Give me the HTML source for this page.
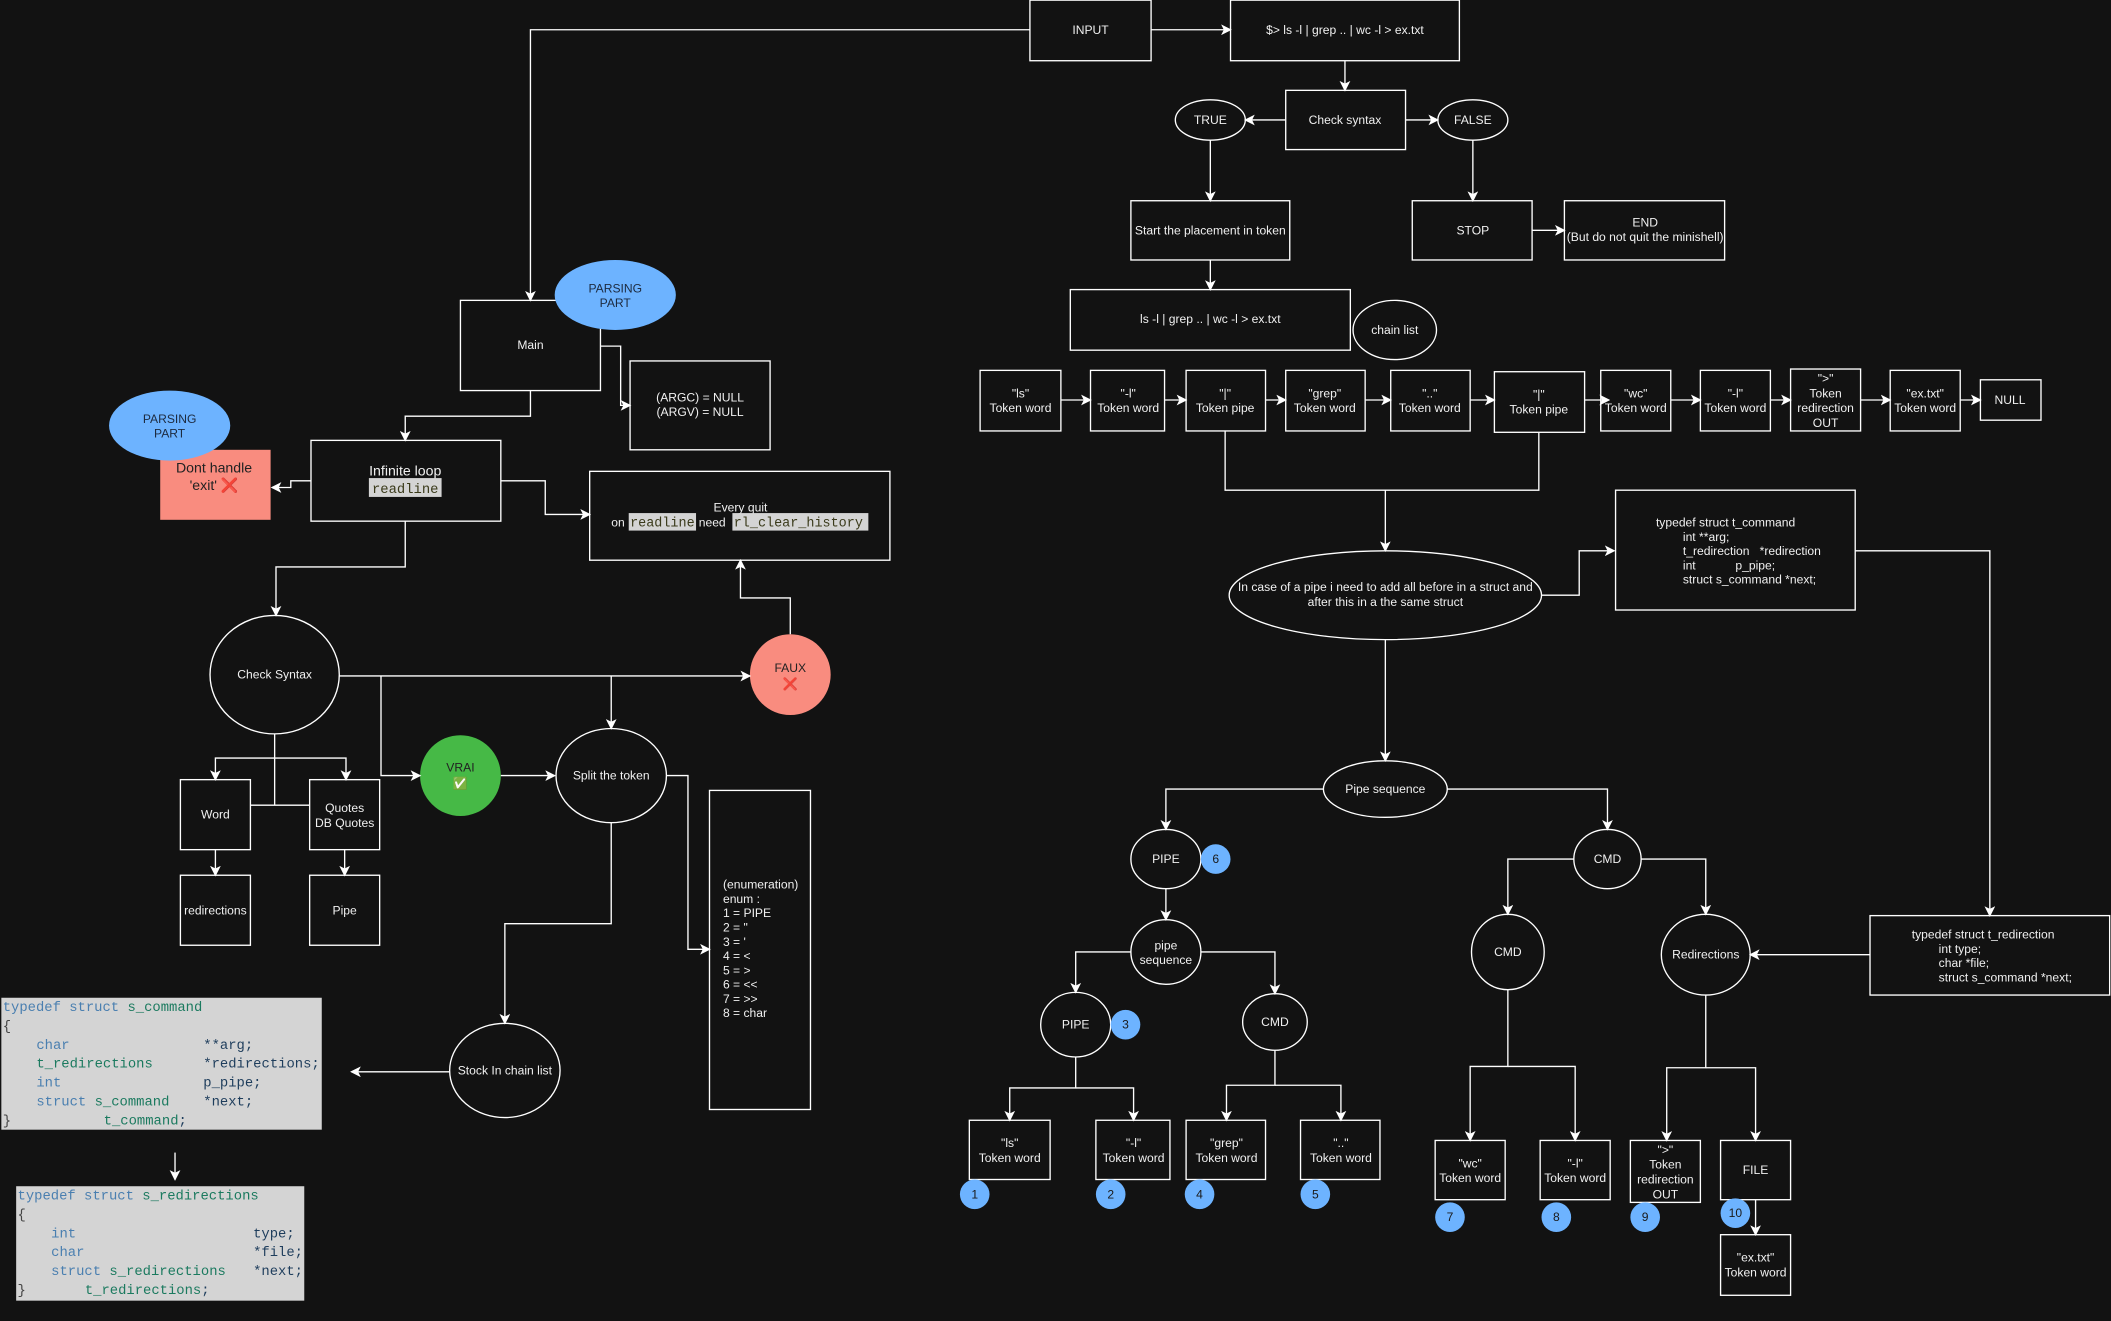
<!DOCTYPE html>
<html><head><meta charset="utf-8"><style>
html,body{margin:0;padding:0;background:#121212;}
svg{display:block}
text{font-family:"Liberation Sans",sans-serif;font-size:9px;fill:#f0f0f0;}
.m{font-family:"Liberation Mono","DejaVu Sans Mono",monospace;font-size:10.3px;}
.kw{fill:#4a7fb0}.ty{fill:#1b7a5f}.id{fill:#1e3d5c}.pu{fill:#444}
</style></head><body>
<svg width="2111" height="1321" viewBox="0 0 1568 981" xmlns="http://www.w3.org/2000/svg">
<defs><marker id="a" markerWidth="8" markerHeight="8" refX="7" refY="4" orient="auto" markerUnits="userSpaceOnUse"><path d="M0,0 L8,4 L0,8 L2,4 z" fill="#fff"/></marker></defs>
<rect width="1568" height="981" fill="#121212"/>
<g fill="none" stroke="#fff" stroke-width="1">
<rect x="765" y="0" width="90" height="45"/>
<rect x="914" y="0" width="170" height="45"/>
<rect x="955" y="67" width="89" height="44"/>
<ellipse cx="899" cy="89" rx="26" ry="15"/>
<ellipse cx="1094" cy="89" rx="26" ry="15"/>
<rect x="840" y="149" width="118" height="44"/>
<rect x="1049" y="149" width="89" height="44"/>
<rect x="1162" y="149" width="119" height="44"/>
<rect x="795" y="215" width="208" height="45"/>
<ellipse cx="1036" cy="245" rx="31" ry="22"/>
<rect x="728" y="275" width="60" height="45"/>
<rect x="810" y="275" width="55" height="45"/>
<rect x="881" y="275" width="59" height="45"/>
<rect x="955" y="275" width="59" height="45"/>
<rect x="1033" y="275" width="59" height="45"/>
<rect x="1110" y="276" width="67" height="45"/>
<rect x="1189" y="275" width="52" height="45"/>
<rect x="1263" y="275" width="52" height="45"/>
<rect x="1330" y="274" width="52" height="46"/>
<rect x="1404" y="275" width="52" height="45"/>
<rect x="1471" y="282" width="45" height="30"/>
<ellipse cx="1029" cy="442" rx="116" ry="33"/>
<rect x="1200" y="364" width="178" height="89"/>
<rect x="1389" y="680" width="178" height="59"/>
<ellipse cx="1029" cy="586" rx="46" ry="21"/>
<ellipse cx="866" cy="638" rx="26" ry="22"/>
<ellipse cx="1194" cy="638" rx="25" ry="22"/>
<ellipse cx="866" cy="707" rx="26" ry="24"/>
<ellipse cx="799" cy="761" rx="26" ry="24"/>
<ellipse cx="947" cy="759" rx="24" ry="21"/>
<ellipse cx="1120" cy="707" rx="27" ry="28"/>
<ellipse cx="1267" cy="709" rx="33" ry="30"/>
<rect x="720" y="832" width="60" height="44"/>
<rect x="814" y="832" width="55" height="44"/>
<rect x="881" y="832" width="59" height="44"/>
<rect x="966" y="832" width="59" height="44"/>
<rect x="1066" y="847" width="52" height="44"/>
<rect x="1144" y="847" width="52" height="44"/>
<rect x="1211" y="847" width="52" height="46"/>
<rect x="1278" y="847" width="52" height="44"/>
<rect x="1278" y="917" width="52" height="45"/>
<rect x="342" y="223" width="104" height="67"/>
<rect x="468" y="268" width="104" height="66"/>
<rect x="231" y="327" width="141" height="60"/>
<rect x="438" y="350" width="223" height="66"/>
<ellipse cx="204" cy="501" rx="48" ry="44"/>
<ellipse cx="454" cy="576" rx="41" ry="35"/>
<rect x="527" y="587" width="75" height="237"/>
<ellipse cx="375" cy="795" rx="41" ry="35"/>
<rect x="134" y="579" width="52" height="52"/>
<rect x="230" y="579" width="52" height="52"/>
<rect x="134" y="650" width="52" height="52"/>
<rect x="230" y="650" width="52" height="52"/>
</g>
<rect x="119" y="334" width="82" height="52" fill="#f98c7f"/>
<ellipse cx="126" cy="316" rx="45" ry="26" fill="#6db3ff"/>
<ellipse cx="457" cy="219" rx="45" ry="26" fill="#6db3ff"/>
<circle cx="587" cy="501" r="30" fill="#f98c7f"/>
<circle cx="342" cy="576" r="30" fill="#46b946"/>
<g fill="#6db3ff">
<circle cx="903" cy="638" r="11"/><circle cx="836" cy="761" r="11"/>
<circle cx="724" cy="887" r="11"/><circle cx="825" cy="887" r="11"/><circle cx="891" cy="887" r="11"/><circle cx="977" cy="887" r="11"/>
<circle cx="1077" cy="904" r="11"/><circle cx="1156" cy="904" r="11"/><circle cx="1222" cy="904" r="11"/><circle cx="1289" cy="901" r="11"/>
</g>
<rect x="1" y="741" width="238" height="98" fill="#d4d4d4"/>
<rect x="12" y="881" width="214" height="85" fill="#d4d4d4"/>
<g fill="none" stroke="#fff" stroke-width="1">
<path d="M855,22H914" marker-end="url(#a)"/>
<path d="M765,22H394V223" marker-end="url(#a)"/>
<path d="M999,45V67" marker-end="url(#a)"/>
<path d="M955,89H925" marker-end="url(#a)"/>
<path d="M1044,89H1068" marker-end="url(#a)"/>
<path d="M899,104V149" marker-end="url(#a)"/>
<path d="M1094,104V149" marker-end="url(#a)"/>
<path d="M1138,171H1162" marker-end="url(#a)"/>
<path d="M899,193V215" marker-end="url(#a)"/>
<path d="M788,297H810" marker-end="url(#a)"/>
<path d="M865,297H881" marker-end="url(#a)"/>
<path d="M940,297H955" marker-end="url(#a)"/>
<path d="M1014,297H1033" marker-end="url(#a)"/>
<path d="M1092,297H1110" marker-end="url(#a)"/>
<path d="M1177,297H1195" marker-end="url(#a)"/>
<path d="M1241,297H1263" marker-end="url(#a)"/>
<path d="M1315,297H1330" marker-end="url(#a)"/>
<path d="M1382,297H1404" marker-end="url(#a)"/>
<path d="M1456,297H1471" marker-end="url(#a)"/>
<path d="M910,320V364H1143V321"/>
<path d="M1029,364V409" marker-end="url(#a)"/>
<path d="M1145,442H1173V409H1199" marker-end="url(#a)"/>
<path d="M1378,409H1478V680" marker-end="url(#a)"/>
<path d="M1389,709H1300" marker-end="url(#a)"/>
<path d="M1029,475V565" marker-end="url(#a)"/>
<path d="M983,586H866V616" marker-end="url(#a)"/>
<path d="M1075,586H1194V616" marker-end="url(#a)"/>
<path d="M866,660V683" marker-end="url(#a)"/>
<path d="M840,707H799V737" marker-end="url(#a)"/>
<path d="M892,707H947V738" marker-end="url(#a)"/>
<path d="M799,785V808H750V832" marker-end="url(#a)"/>
<path d="M799,808H842V832" marker-end="url(#a)"/>
<path d="M947,780V806H911V832" marker-end="url(#a)"/>
<path d="M947,806H996V832" marker-end="url(#a)"/>
<path d="M1169,638H1120V679" marker-end="url(#a)"/>
<path d="M1219,638H1267V679" marker-end="url(#a)"/>
<path d="M1120,735V792H1092V847" marker-end="url(#a)"/>
<path d="M1120,792H1170V847" marker-end="url(#a)"/>
<path d="M1267,739V793H1238V847" marker-end="url(#a)"/>
<path d="M1267,793H1304V847" marker-end="url(#a)"/>
<path d="M1304,891V917" marker-end="url(#a)"/>
<path d="M446,257H461V301H468" marker-end="url(#a)"/>
<path d="M394,290V309H301V327" marker-end="url(#a)"/>
<path d="M231,357H216V362H202" marker-end="url(#a)"/>
<path d="M372,357H405V382H438" marker-end="url(#a)"/>
<path d="M587,471V444H550V416" marker-end="url(#a)"/>
<path d="M301,387V421H205V457" marker-end="url(#a)"/>
<path d="M252,502H557" marker-end="url(#a)"/>
<path d="M283,502V576H312" marker-end="url(#a)"/>
<path d="M454,502V541" marker-end="url(#a)"/>
<path d="M372,576H412" marker-end="url(#a)"/>
<path d="M495,576H511V705H527" marker-end="url(#a)"/>
<path d="M454,611V686H375V760" marker-end="url(#a)"/>
<path d="M334,796H261" marker-end="url(#a)"/>
<path d="M204,545V598"/>
<path d="M186,598H230"/>
<path d="M204,563H160V579" marker-end="url(#a)"/>
<path d="M204,563H257V579" marker-end="url(#a)"/>
<path d="M160,631V650" marker-end="url(#a)"/>
<path d="M256,631V650" marker-end="url(#a)"/>
<path d="M130,856V876" marker-end="url(#a)"/>
</g>
<g text-anchor="middle">
<text x="810" y="25">INPUT</text>
<text x="999" y="25">$&gt; ls -l | grep .. | wc -l &gt; ex.txt</text>
<text x="999" y="92">Check syntax</text>
<text x="899" y="92">TRUE</text>
<text x="1094" y="92">FALSE</text>
<text x="899" y="174">Start the placement in token</text>
<text x="1094" y="174">STOP</text>
<text x="1222" y="168">END</text>
<text x="1222" y="179">(But do not quit the minishell)</text>
<text x="899" y="240">ls -l | grep .. | wc -l &gt; ex.txt</text>
<text x="1036" y="248">chain list</text>
<text x="758" y="295">"ls"</text><text x="758" y="306">Token word</text>
<text x="838" y="295">"-l"</text><text x="838" y="306">Token word</text>
<text x="910" y="295">"|"</text><text x="910" y="306">Token pipe</text>
<text x="984" y="295">"grep"</text><text x="984" y="306">Token word</text>
<text x="1062" y="295">".."</text><text x="1062" y="306">Token word</text>
<text x="1143" y="296">"|"</text><text x="1143" y="307">Token pipe</text>
<text x="1215" y="295">"wc"</text><text x="1215" y="306">Token word</text>
<text x="1289" y="295">"-l"</text><text x="1289" y="306">Token word</text>
<text x="1356" y="284">"&gt;"</text><text x="1356" y="295">Token</text><text x="1356" y="306">redirection</text><text x="1356" y="317">OUT</text>
<text x="1430" y="295">"ex.txt"</text><text x="1430" y="306">Token word</text>
<text x="1493" y="300">NULL</text>
<text x="1029" y="439">In case of a pipe i need to add all before in a struct and</text>
<text x="1029" y="450">after this in a the same struct</text>
<text x="1029" y="589">Pipe sequence</text>
<text x="866" y="641">PIPE</text>
<text x="1194" y="641">CMD</text>
<text x="866" y="705">pipe</text><text x="866" y="716">sequence</text>
<text x="799" y="764">PIPE</text>
<text x="947" y="762">CMD</text>
<text x="1120" y="710">CMD</text>
<text x="1267" y="712">Redirections</text>
<text x="750" y="852">"ls"</text><text x="750" y="863">Token word</text>
<text x="842" y="852">"-l"</text><text x="842" y="863">Token word</text>
<text x="911" y="852">"grep"</text><text x="911" y="863">Token word</text>
<text x="996" y="852">".."</text><text x="996" y="863">Token word</text>
<text x="1092" y="867">"wc"</text><text x="1092" y="878">Token word</text>
<text x="1170" y="867">"-l"</text><text x="1170" y="878">Token word</text>
<text x="1237" y="857">"&gt;"</text><text x="1237" y="868">Token</text><text x="1237" y="879">redirection</text><text x="1237" y="890">OUT</text>
<text x="1304" y="872">FILE</text>
<text x="1304" y="937">"ex.txt"</text><text x="1304" y="948">Token word</text>
<g style="font-size:8.5px"><text x="903" y="641" style="fill:#1a1a1a">6</text><text x="836" y="764" style="fill:#1a1a1a">3</text><text x="724" y="890" style="fill:#1a1a1a">1</text><text x="825" y="890" style="fill:#1a1a1a">2</text><text x="891" y="890" style="fill:#1a1a1a">4</text><text x="977" y="890" style="fill:#1a1a1a">5</text><text x="1077" y="907" style="fill:#1a1a1a">7</text><text x="1156" y="907" style="fill:#1a1a1a">8</text><text x="1222" y="907" style="fill:#1a1a1a">9</text><text x="1289" y="904" style="fill:#1a1a1a">10</text></g>
<text x="394" y="259">Main</text>
<text x="457" y="217" style="fill:#1d2b40">PARSING</text><text x="457" y="228" style="fill:#1d2b40">PART</text>
<text x="126" y="314" style="fill:#1d2b40">PARSING</text><text x="126" y="325" style="fill:#1d2b40">PART</text>
<text x="520" y="298">(ARGC) = NULL</text><text x="520" y="309">(ARGV) = NULL</text>
<text x="159" y="351" style="font-size:10.5px;fill:#222">Dont handle</text>
<text x="159" y="364" style="font-size:10.5px;fill:#222">'exit' <tspan style="fill:#d22">❌</tspan></text>
<text x="301" y="353" style="font-size:10.5px">Infinite loop</text>
<text x="550" y="380">Every quit</text>
<text x="204" y="504">Check Syntax</text>
<text x="587" y="499" style="fill:#222">FAUX</text><text x="587" y="511" style="fill:#d22">❌</text>
<text x="342" y="573" style="fill:#222">VRAI</text><text x="342" y="585">✅</text>
<text x="454" y="579">Split the token</text>
<text x="375" y="798">Stock In chain list</text>
<text x="160" y="608">Word</text>
<text x="256" y="603">Quotes</text><text x="256" y="614">DB Quotes</text>
<text x="160" y="679">redirections</text>
<text x="256" y="679">Pipe</text>
</g>
<rect x="274" y="355" width="54" height="14" fill="#d4d4d4"/>
<text x="301" y="366" text-anchor="middle" class="m" style="fill:#3a3a1a">readline</text>
<text x="454" y="391">on</text>
<rect x="467" y="381" width="50" height="13" fill="#d4d4d4"/>
<text x="468" y="391" class="m" style="fill:#3a3a1a;font-size:10px">readline</text>
<text x="519" y="391">need</text>
<rect x="544" y="381" width="101" height="13" fill="#d4d4d4"/>
<text x="545" y="391" class="m" style="fill:#3a3a1a;font-size:10px">rl_clear_history</text>
<g>
<text x="537" y="660">(enumeration)</text><text x="537" y="670.6">enum :</text>
<text x="537" y="681.2">1 = PIPE</text><text x="537" y="691.8">2 = "</text>
<text x="537" y="702.4">3 = '</text><text x="537" y="713">4 = &lt;</text>
<text x="537" y="723.6">5 = &gt;</text><text x="537" y="734.2">6 = &lt;&lt;</text>
<text x="537" y="744.8">7 = &gt;&gt;</text><text x="537" y="755.4">8 = char</text>
</g>
<text x="1230" y="391">typedef struct t_command</text>
<text x="1250" y="401.6">int **arg;</text>
<text x="1250" y="412.2">t_redirection</text><text x="1307" y="412.2">*redirection</text>
<text x="1250" y="422.8">int</text><text x="1289" y="422.8">p_pipe;</text>
<text x="1250" y="433.4">struct s_command *next;</text>
<text x="1420" y="697">typedef struct t_redirection</text>
<text x="1440" y="707.6">int type;</text>
<text x="1440" y="718.2">char *file;</text>
<text x="1440" y="728.8">struct s_command *next;</text>
<g class="m">
<text x="2" y="751" class="m"><tspan class="kw">typedef struct </tspan><tspan class="ty">s_command</tspan></text>
<text x="2" y="765" class="m pu">{</text>
<text x="27" y="779" class="m kw">char</text><text x="151" y="779" class="m id">**arg;</text>
<text x="27" y="793" class="m ty">t_redirections</text><text x="151" y="793" class="m id">*redirections;</text>
<text x="27" y="807" class="m kw">int</text><text x="151" y="807" class="m id">p_pipe;</text>
<text x="27" y="821" class="m"><tspan class="kw">struct </tspan><tspan class="ty">s_command</tspan></text><text x="151" y="821" class="m id">*next;</text>
<text x="2" y="835" class="m pu">}</text><text x="77" y="835" class="m"><tspan class="ty">t_command</tspan><tspan class="id">;</tspan></text>
<text x="13" y="891" class="m"><tspan class="kw">typedef struct </tspan><tspan class="ty">s_redirections</tspan></text>
<text x="13" y="905" class="m pu">{</text>
<text x="38" y="919" class="m kw">int</text><text x="188" y="919" class="m id">type;</text>
<text x="38" y="933" class="m kw">char</text><text x="188" y="933" class="m id">*file;</text>
<text x="38" y="947" class="m"><tspan class="kw">struct </tspan><tspan class="ty">s_redirections</tspan></text><text x="188" y="947" class="m id">*next;</text>
<text x="13" y="961" class="m pu">}</text><text x="63" y="961" class="m"><tspan class="ty">t_redirections</tspan><tspan class="id">;</tspan></text>
</g>
</svg>
</body></html>
